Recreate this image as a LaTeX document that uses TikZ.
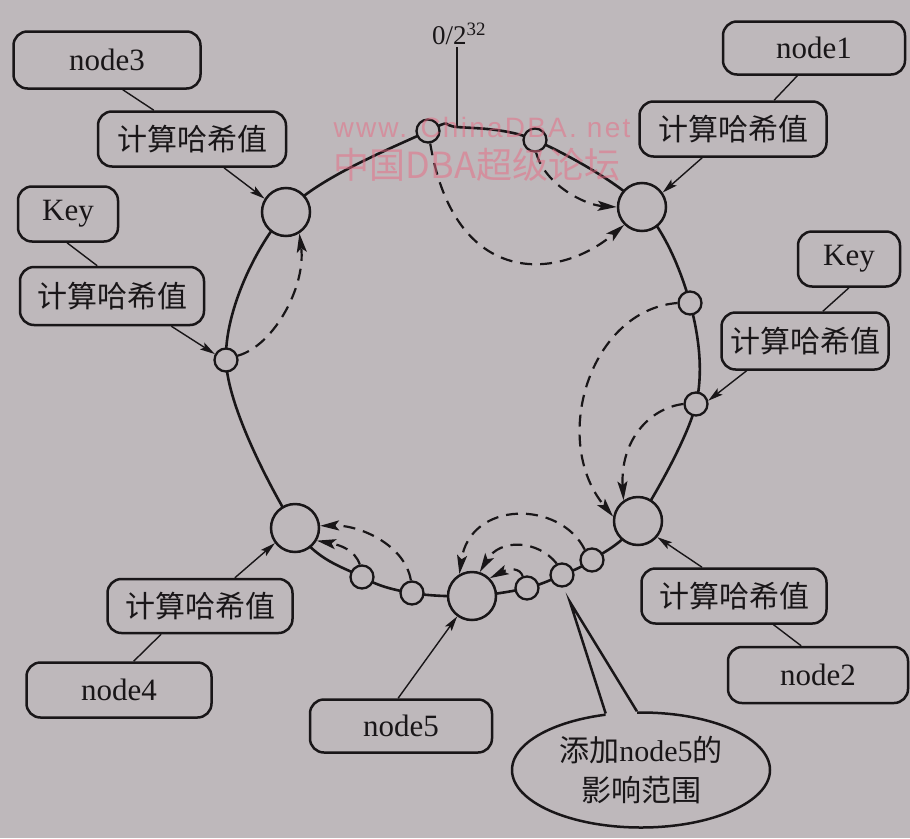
\documentclass[tikz,border=0pt]{standalone}
\usepackage{fontspec}
\setmainfont{Liberation Serif}
\newfontfamily\cjk{Noto Sans CJK SC}
\newfontfamily\wmfont[LetterSpace=8]{Liberation Sans}
\usetikzlibrary{arrows.meta,shapes.geometric,calc}
\definecolor{paper}{RGB}{190,184,187}
\definecolor{ink}{RGB}{25,22,24}
\definecolor{wm}{RGB}{232,105,130}
\begin{document}
\begin{tikzpicture}[x=1pt,y=-1pt,
  box/.style={draw=ink,line width=2.5pt,rounded corners=14pt,fill=paper,inner sep=0pt,text=ink,font=\fontsize{31}{36}\selectfont},
  hashbox/.style={box,font=\cjk\fontsize{30}{34}\selectfont},
  big/.style={circle,draw=ink,line width=2.5pt,fill=paper,minimum size=48pt,inner sep=0pt},
  small/.style={circle,draw=ink,line width=2.3pt,fill=paper,minimum size=23pt,inner sep=0pt},
  link/.style={draw=ink,line width=1.4pt},
  hasharrow/.style={link,-{Stealth[length=15pt,width=8pt,inset=3pt]}},
  move/.style={draw=ink,line width=2.2pt,dash pattern=on 12pt off 8pt,-{Stealth[length=19pt,width=10pt,inset=4pt]}},
]
\fill[paper] (0,0) rectangle (910,838);
\useasboundingbox (0,0) rectangle (910,838);

% ring
\draw[ink,line width=2.6pt] plot[smooth cycle,tension=0.55] coordinates {(286,212) (428,131) (457,127) (535,140) (642,207) (690,303) (696,404) (638,521) (592,560) (562,575) (527,588) (472,596) (412,593) (362,577) (295,528) (226,360)};
\coordinate (T) at (457,127);

% ring positions
\node[big] (N3) at (286,212) {};
\node[small] (A) at (428,131) {};
\node[small] (B) at (535,140) {};
\node[big] (N1) at (642,207) {};
\node[small] (C) at (690,303) {};
\node[small] (D) at (696,404) {};
\node[big] (N2) at (638,521) {};
\node[small] (E) at (592,560) {};
\node[small] (F) at (562,575) {};
\node[small] (G) at (527,588) {};
\node[big] (N5) at (472,596) {};
\node[small] (H) at (412,593) {};
\node[small] (I) at (362,577) {};
\node[big] (N4) at (295,528) {};
\node[small] (J) at (226,360) {};

% zero label
\node[text=ink,font=\fontsize{27}{30}\selectfont,inner sep=2pt] (zero) at (459,34) {0/2\textsuperscript{32}};
\draw[link,line width=1.6pt] (zero.south -| T) -- (T);

% boxes
\node[box,minimum width=187pt,minimum height=57pt] (n3) at (107,60) {node3};
\node[hashbox,minimum width=188pt,minimum height=55pt] (h3) at (192,139) {计算哈希值};
\node[box,minimum width=100pt,minimum height=55pt] (k3) at (68,214) {Key};
\node[hashbox,minimum width=184pt,minimum height=58pt] (hk3) at (112,296) {计算哈希值};
\node[box,minimum width=182pt,minimum height=53pt] (n1) at (814,48) {node1};
\node[hashbox,minimum width=187pt,minimum height=55pt] (h1) at (733,129) {计算哈希值};
\node[box,minimum width=102pt,minimum height=55pt] (k1) at (849,259) {Key};
\node[hashbox,minimum width=167pt,minimum height=57pt] (hk1) at (805,341) {计算哈希值};
\node[hashbox,minimum width=185pt,minimum height=54pt] (h4) at (200,606) {计算哈希值};
\node[box,minimum width=185pt,minimum height=55pt] (n4) at (119,690) {node4};
\node[box,minimum width=182pt,minimum height=53pt] (n5) at (401,726) {node5};
\node[hashbox,minimum width=185pt,minimum height=55pt] (h2) at (734,596) {计算哈希值};
\node[box,minimum width=180pt,minimum height=56pt] (n2) at (818,675) {node2};

% links
\draw[link] (n3.-62) -- (h3.143);
\draw[hasharrow] (h3.-42) -- (N3.148);
\draw[link] (k3.-92) -- (hk3.116);
\draw[hasharrow] (hk3.-27) -- (J.152);
\draw[link] (n1.-121) -- (h1.35);
\draw[hasharrow] (h1.-137) -- (N1.35);
\draw[link] (k1.south) -- (hk1.59);
\draw[hasharrow] (hk1.-153) -- (D.15);
\draw[link] (n4.63) -- (h4.-144);
\draw[hasharrow] (h4.39) -- (N4.-143);
\draw[hasharrow] (n5.96) -- (N5.-126);
\draw[link] (n2.120) -- (h2.-36);
\draw[hasharrow] (h2.138) -- (N2.-40);

% dashed moves
\draw[move] (A.-80) .. controls (455,290) and (560,280) .. (N1.-135);
\draw[move] (B.-85) .. controls (545,185) and (585,205) .. (N1.west);
\draw[move] (J.20) .. controls (275,345) and (306,285) .. (N3.-58);
\draw[move] (C.west) .. controls (590,310) and (550,440) .. (N2.170);
\draw[move] (D.west) .. controls (650,408) and (620,440) .. (N2.125);
\draw[move] (E.125) .. controls (560,500) and (470,500) .. (N5.120);
\draw[move] (F.115) .. controls (538,540) and (500,538) .. (N5.72);
\draw[move] (G.110) .. controls (520,568) and (510,568) .. (N5.45);
\draw[move] (H.95) .. controls (405,545) and (360,525) .. (N4.5);
\draw[move] (I.100) .. controls (355,550) and (340,545) .. (N4.-30);

% callout
\node[ellipse,draw=ink,line width=2.5pt,fill=paper,minimum width=258pt,minimum height=115pt,inner sep=0pt,align=center,text=ink,font=\fontsize{30}{40}\selectfont] (call) at (641,770) {{\cjk 添加}node5{\cjk 的}\\{\cjk 影响范围}};
\coordinate (tip) at (570,602);
\fill[paper] (call.122) -- (tip) -- (call.94) -- ($(call.94)+(0,7)$) -- ($(call.122)+(0,7)$) -- cycle;
\draw[ink,line width=2.5pt] (call.122) -- (tip) -- (call.94);

% watermark
\node[text=wm,opacity=0.5,font=\wmfont\fontsize{28}{30}\selectfont] (wm1) at (482,127) {www. ChinaDBA. net};
\node[text=wm,opacity=0.5,font=\cjk\fontsize{36}{38}\selectfont] (wm2) at (477,165) {中国DBA超级论坛};
\end{tikzpicture}
\end{document}
